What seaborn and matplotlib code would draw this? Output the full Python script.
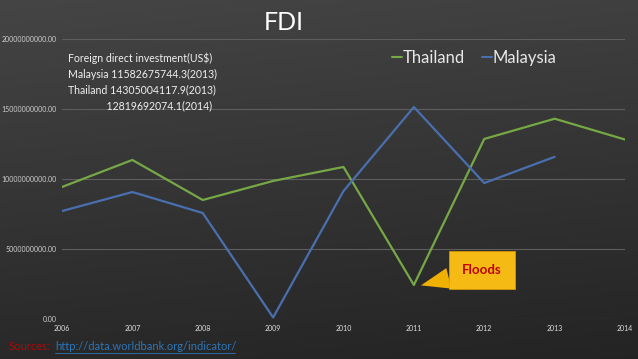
import numpy as np
import pandas as pd
import matplotlib
matplotlib.use("Agg")
import matplotlib.pyplot as plt
import seaborn as sns
from matplotlib.lines import Line2D

years = [2006, 2007, 2008, 2009, 2010, 2011, 2012, 2013, 2014]
thailand = [9.43e9, 11.36e9, 8.50e9, 9.86e9, 10.86e9, 2.43e9, 12.86e9, 14305004117.9, 12819692074.1]
malaysia_years = [2006, 2007, 2008, 2009, 2010, 2011, 2012, 2013]
malaysia = [7.71e9, 9.07e9, 7.57e9, 0.11e9, 9.14e9, 15.14e9, 9.71e9, 11582675744.3]
yticks = [0, 5e9, 10e9, 15e9, 20e9]

df = pd.concat([
    pd.DataFrame({"year": years, "fdi": thailand, "country": "Thailand"}),
    pd.DataFrame({"year": malaysia_years, "fdi": malaysia, "country": "Malaysia"}),
])

sns.set_theme(style="dark")
plt.rcParams['font.family'] = ['Lato', 'DejaVu Sans']

fig = plt.figure(figsize=(6.38, 3.59), dpi=100)
# background gradient
bg = fig.add_axes([0, 0, 1, 1], zorder=0)
yy, xx = np.mgrid[0:1:200j, 0:1:200j]
grad = 0.27 - 0.11 * yy - 0.02 * xx
bg.imshow(np.dstack([grad, grad, grad]), extent=[0, 1, 0, 1], aspect='auto', origin='upper')
bg.axis('off')

ax = fig.add_axes([62/638, 40/359, 563/638, 280/359], zorder=1)
ax.patch.set_alpha(0)
palette = {"Thailand": "#76a845", "Malaysia": "#4a6fae"}
sns.lineplot(data=df, x="year", y="fdi", hue="country", palette=palette, ax=ax, linewidth=1.6, legend=False)

ax.set_xlim(2006, 2014)
ax.set_ylim(0, 20e9)
ax.set_xticks(years)
ax.set_xticklabels([str(y) for y in years], color="#e0e0e0", fontsize=5)
ax.set_yticks(yticks)
ax.set_yticklabels([f"{v:.2f}" for v in yticks], color="#d0d0d0", fontsize=5)
ax.tick_params(axis='both', length=0, pad=4)
ax.grid(axis='y', color='#5e5e5e', linewidth=0.8)
ax.grid(axis='x', visible=False)
for s in ax.spines.values():
    s.set_visible(False)
ax.set_xlabel("")
ax.set_ylabel("")

# legend
handles = [Line2D([], [], color=palette["Thailand"], lw=1.5), Line2D([], [], color=palette["Malaysia"], lw=1.5)]
leg = ax.legend(handles, ["Thailand", "Malaysia"], loc='upper left', bbox_to_anchor=(0.56, 1.015), ncol=2,
                frameon=False, handlelength=0.6, handletextpad=0.05, columnspacing=1.0, fontsize=12)
for t in leg.get_texts():
    t.set_color("#e8e8e8")

fig.text(284/638, 1 - 22/359, "FDI", ha='center', va='center', color='white', fontsize=18)

info = "Foreign direct investment(US$)\nMalaysia 11582675744.3(2013)\nThailand 14305004117.9(2013)\n              12819692074.1(2014)"
fig.text(68/638, 1 - 52/359, info, ha='left', va='top', color='#f0f0f0', fontsize=7.6, linespacing=1.55)

ax.annotate("Floods", xy=(2011.1, 2.4e9), xytext=(2011.97, 3.5e9), ha='center', va='center',
            color='#c00000', fontsize=9.5, fontweight='bold',
            bbox=dict(boxstyle='square,pad=1.0', fc='#f5bb14', ec='#e0a000', lw=0.5),
            arrowprops=dict(arrowstyle='wedge,tail_width=1.6,shrink_factor=0.5', fc='#f0b000', ec='none',
                            shrinkA=0, shrinkB=0))

fig.text(9/638, 1 - 347/359, "Sources:", color='#c00000', fontsize=8, va='center')
fig.text(55/638, 1 - 347/359, "http://data.worldbank.org/indicator/", color='#2e75b6', fontsize=8, va='center')
fig.add_artist(Line2D([55/638, 235/638], [1 - 353/359, 1 - 353/359], color='#2e75b6', lw=0.6))

fig.savefig("out.png", dpi=100)
